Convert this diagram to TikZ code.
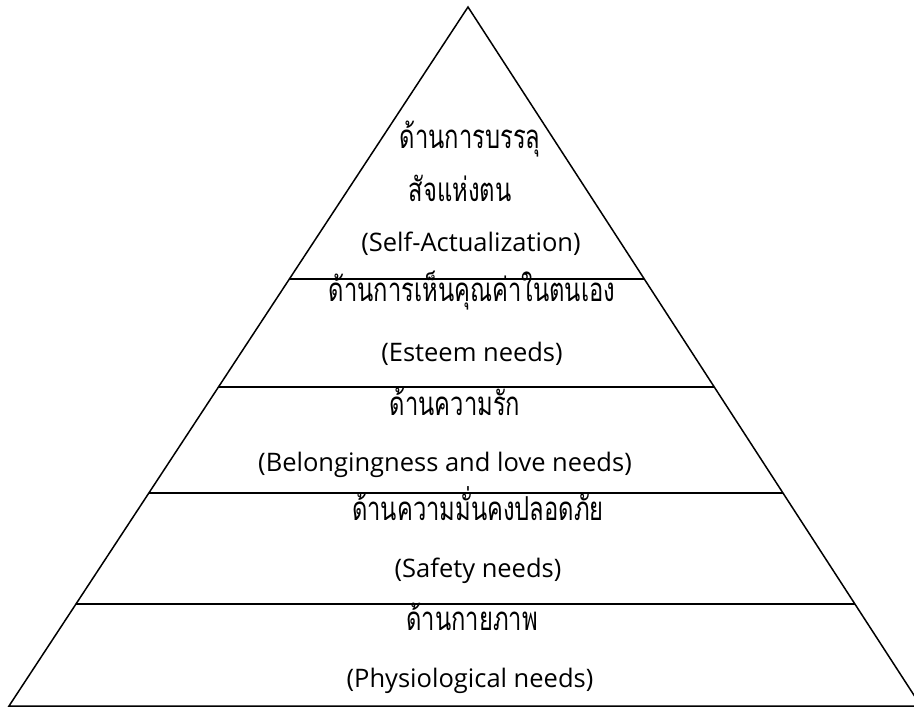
\documentclass[tikz,border=0pt]{standalone}
\usepackage{fontspec}
\setmainfont{Open Sans}
\newfontfamily\thaifont[Script=Thai,FakeStretch=0.72]{Loma}
\usetikzlibrary{calc}
\tikzset{
  side/.style={line width=1.5pt, line join=miter},
  level/.style={line width=1.2pt},
  th/.style={anchor=base, inner sep=0pt, font=\thaifont\fontsize{33}{38}\selectfont},
  en/.style={anchor=base, inner sep=0pt, font=\fontsize{25.5}{30}\selectfont},
}
\begin{document}
\begin{tikzpicture}[x=1pt,y=-1pt]
\useasboundingbox (0,0) rectangle (914,711);
\clip (0,0) rectangle (914,711);
\coordinate (A) at (468,7);
\coordinate (L) at (9,706);
\coordinate (R) at (921,706);
\draw[side] (L) -- (A) -- (R) -- cycle;
\foreach \t/\n in {0.3891/1,0.5436/2,0.6953/3,0.8541/4}{
  \coordinate (l\n) at ($(A)!\t!(L)$);
  \coordinate (r\n) at ($(A)!\t!(R)$);
  \draw[level] (l\n) -- (r\n);
}
\node[th] (t1a) at (470,149) {ด้านการบรรลุ};
\node[th] (t1b) at (460,202) {สัจแห่งตน};
\node[en] (e1) at (471,252) {(Self-Actualization)};
\node[th] (t2) at (472,302) {ด้านการเห็นคุณค่าในตนเอง};
\node[en] (e2) at (472,362) {(Esteem needs)};
\node[th] (t3) at (455,416) {ด้านความรัก};
\node[en] (e3) at (445,472) {(Belongingness and love needs)};
\node[th] (t4) at (478,520) {ด้านความมั่นคงปลอดภัย};
\node[en] (e4) at (478,577) {(Safety needs)};
\node[th] (t5) at (472,630) {ด้านกายภาพ};
\node[en] (e5) at (470,687) {(Physiological needs)};
\end{tikzpicture}
\end{document}
